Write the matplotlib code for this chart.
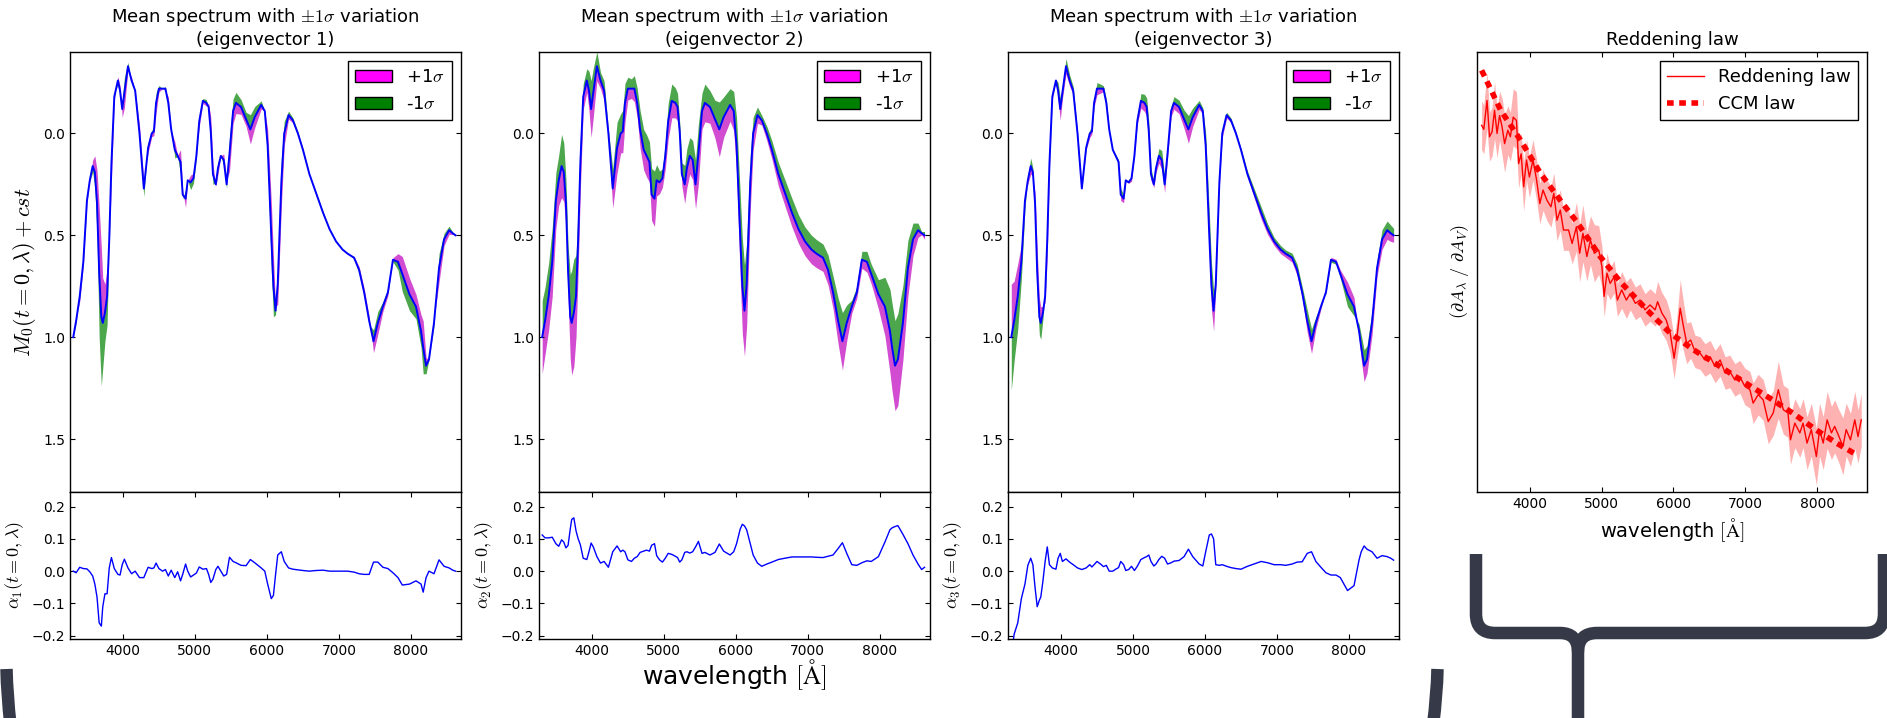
import numpy as np
import matplotlib
matplotlib.use("Agg")
import matplotlib.pyplot as plt
from matplotlib.patches import Patch, PathPatch
from matplotlib.path import Path

# ---- data ----
# common wavelength grid (Angstrom) for the mean spectrum and the alpha curves
wave = [3310, 3350, 3400, 3450, 3500, 3540, 3580, 3610, 3640, 3670,
        3700, 3720, 3750, 3780, 3810, 3840, 3880, 3930, 3960, 3990,
        4020, 4070, 4120, 4170, 4230, 4290, 4350, 4400, 4430, 4460,
        4500, 4550, 4590, 4630, 4670, 4720, 4760, 4800, 4830, 4870,
        4900, 4940, 4980, 5020, 5060, 5110, 5160, 5190, 5220, 5250,
        5290, 5320, 5360, 5400, 5440, 5480, 5530, 5570, 5640, 5710,
        5770, 5830, 5920, 5970, 6010, 6060, 6090, 6120, 6150, 6200,
        6240, 6300, 6360, 6430, 6500, 6590, 6680, 6780, 6870, 6960,
        7050, 7120, 7210, 7280, 7350, 7420, 7480, 7540, 7610, 7680,
        7750, 7820, 7880, 7980, 8070, 8140, 8170, 8210, 8250, 8320,
        8390, 8460, 8530, 8580, 8620]

# mean spectrum M0(t=0, lambda) + cst
mean_spec = [1.00, 0.92, 0.80, 0.63, 0.33, 0.23, 0.16, 0.19, 0.34, 0.68,
             0.90, 0.93, 0.88, 0.80, 0.52, 0.15, -0.18, -0.26, -0.21, -0.12,
             -0.20, -0.33, -0.26, -0.21, 0.00, 0.27, 0.07, 0.00, -0.01, -0.15,
             -0.22, -0.22, -0.22, -0.15, -0.02, 0.08, 0.11, 0.14, 0.30, 0.32,
             0.23, 0.24, 0.22, 0.11, -0.06, -0.16, -0.15, -0.13, -0.01, 0.20,
             0.25, 0.17, 0.11, 0.13, 0.25, 0.10, -0.11, -0.15, -0.13, -0.07,
             -0.02, -0.08, -0.14, -0.11, 0.06, 0.50, 0.75, 0.87, 0.74, 0.24,
             0.00, -0.09, -0.065, 0.00, 0.08, 0.20, 0.29, 0.39, 0.47, 0.53,
             0.57, 0.59, 0.61, 0.67, 0.78, 0.92, 1.02, 0.93, 0.85, 0.78,
             0.62, 0.63, 0.69, 0.79, 0.85, 0.97, 1.05, 1.14, 1.11, 0.93,
             0.66, 0.52, 0.475, 0.49, 0.50]

alpha1 = [0.000, -0.005, 0.012, 0.008, 0.007, -0.002, -0.015, -0.040, -0.080, -0.160,
          -0.170, -0.110, -0.070, -0.070, 0.010, 0.042, 0.008, -0.010, -0.012, 0.020,
          0.037, 0.010, -0.008, 0.000, -0.020, -0.020, 0.012, 0.008, 0.010, 0.025,
          0.008, 0.000, 0.005, -0.015, 0.003, -0.020, -0.002, -0.030, -0.010, 0.022,
          0.000, -0.018, -0.012, -0.006, 0.013, 0.006, 0.008, -0.010, -0.035, -0.025,
          0.005, 0.015, 0.000, -0.015, -0.010, 0.043, 0.030, 0.026, 0.018, 0.017,
          0.036, 0.026, 0.010, 0.000, -0.040, -0.085, -0.075, -0.010, 0.050, 0.060,
          0.030, 0.010, 0.006, 0.004, 0.002, 0.000, 0.002, 0.003, 0.000, 0.000,
          0.000, 0.000, -0.003, -0.008, -0.010, -0.010, 0.028, 0.028, 0.012, 0.008,
          -0.005, -0.020, -0.043, -0.040, -0.030, -0.040, -0.065, -0.020, 0.000, -0.008,
          0.035, 0.015, 0.010, 0.003, 0.000]

alpha2 = [0.112, 0.103, 0.103, 0.105, 0.085, 0.077, 0.097, 0.090, 0.072, 0.080,
          0.130, 0.160, 0.165, 0.125, 0.100, 0.082, 0.040, 0.036, 0.060, 0.087,
          0.075, 0.045, 0.025, 0.030, 0.012, 0.060, 0.078, 0.060, 0.065, 0.060,
          0.035, 0.030, 0.040, 0.045, 0.058, 0.062, 0.065, 0.062, 0.080, 0.085,
          0.048, 0.035, 0.028, 0.040, 0.055, 0.052, 0.046, 0.042, 0.028, 0.035,
          0.058, 0.060, 0.056, 0.060, 0.075, 0.092, 0.055, 0.058, 0.050, 0.058,
          0.084, 0.062, 0.050, 0.060, 0.085, 0.130, 0.145, 0.140, 0.128, 0.085,
          0.050, 0.025, 0.015, 0.022, 0.028, 0.036, 0.040, 0.044, 0.044, 0.044,
          0.044, 0.043, 0.042, 0.046, 0.050, 0.070, 0.088, 0.055, 0.020, 0.018,
          0.026, 0.032, 0.030, 0.045, 0.090, 0.128, 0.134, 0.138, 0.141, 0.114,
          0.085, 0.050, 0.022, 0.005, 0.012]

alpha3 = [-0.260, -0.195, -0.160, -0.085, -0.040, 0.018, 0.040, 0.020, -0.050, -0.110,
          -0.090, -0.080, -0.030, 0.030, 0.075, 0.020, 0.010, 0.006, 0.040, 0.055,
          0.030, 0.038, 0.028, 0.020, 0.010, 0.005, 0.010, 0.020, 0.013, 0.020,
          0.030, 0.022, 0.014, 0.018, 0.000, 0.000, 0.006, 0.011, 0.030, 0.020,
          0.002, 0.005, 0.015, 0.002, 0.015, 0.036, 0.042, 0.045, 0.050, 0.030,
          0.016, 0.022, 0.036, 0.046, 0.040, 0.022, 0.026, 0.031, 0.033, 0.045,
          0.068, 0.045, 0.022, 0.016, 0.060, 0.112, 0.115, 0.100, 0.020, 0.018,
          0.020, 0.015, 0.011, 0.008, 0.006, 0.015, 0.022, 0.030, 0.026, 0.020,
          0.020, 0.018, 0.022, 0.028, 0.029, 0.055, 0.060, 0.030, 0.012, -0.005,
          -0.012, -0.012, -0.020, -0.060, -0.045, 0.035, 0.060, 0.078, 0.068, 0.060,
          0.040, 0.048, 0.045, 0.040, 0.034]

# 1 sigma of each eigenvector coefficient
sigmas = [2.0, 1.6, 1.0]

# reddening law (arbitrary units, no y tick labels in the original)
red_wave = [3330, 3360, 3405, 3440, 3475, 3510, 3545, 3580, 3615, 3650,
            3695, 3730, 3770, 3815, 3845, 3880, 3915, 3955, 3995, 4045,
            4095, 4140, 4185, 4240, 4295, 4335, 4380, 4425, 4470, 4540,
            4590, 4650, 4695, 4740, 4795, 4845, 4900, 4960, 5005, 5035,
            5075, 5120, 5175, 5220, 5280, 5345, 5400, 5470, 5535, 5605,
            5675, 5745, 5780, 5840, 5900, 5955, 6010, 6045, 6095, 6140,
            6185, 6240, 6300, 6370, 6440, 6510, 6580, 6650, 6720, 6785,
            6855, 6925, 6995, 7065, 7110, 7180, 7250, 7320, 7390, 7460,
            7530, 7595, 7630, 7690, 7760, 7805, 7860, 7920, 7990, 8035,
            8085, 8140, 8200, 8245, 8305, 8360, 8405, 8465, 8525, 8570, 8615]

red_law = [1.430, 1.420, 1.491, 1.402, 1.414, 1.467, 1.410, 1.454, 1.426, 1.385,
           1.418, 1.402, 1.450, 1.442, 1.336, 1.360, 1.279, 1.345, 1.303, 1.345,
           1.296, 1.238, 1.271, 1.246, 1.230, 1.263, 1.197, 1.222, 1.173, 1.173,
           1.140, 1.181, 1.116, 1.165, 1.108, 1.148, 1.116, 1.124, 1.083, 1.010,
           1.067, 1.042, 1.058, 1.001, 1.026, 1.001, 1.017, 0.993, 1.001, 0.977,
           0.989, 0.977, 0.997, 0.969, 0.952, 0.920, 0.858, 0.903, 0.981, 0.936,
           0.895, 0.903, 0.875, 0.871, 0.854, 0.862, 0.838, 0.854, 0.822, 0.826,
           0.805, 0.813, 0.789, 0.781, 0.748, 0.769, 0.756, 0.703, 0.724, 0.781,
           0.732, 0.724, 0.658, 0.699, 0.675, 0.699, 0.650, 0.683, 0.617, 0.683,
           0.650, 0.707, 0.675, 0.691, 0.666, 0.642, 0.683, 0.658, 0.707, 0.666, 0.707]

red_err = [0.06, 0.06, 0.07, 0.06, 0.06, 0.07, 0.06, 0.06, 0.07, 0.07,
           0.06, 0.06, 0.07, 0.07, 0.06, 0.05, 0.06, 0.05, 0.05, 0.05,
           0.05, 0.05, 0.05, 0.05, 0.05, 0.05, 0.05, 0.05, 0.05, 0.05,
           0.05, 0.06, 0.07, 0.07, 0.06, 0.06, 0.07, 0.06, 0.05, 0.05,
           0.05, 0.04, 0.04, 0.04, 0.045, 0.045, 0.04, 0.04, 0.04, 0.04,
           0.04, 0.04, 0.05, 0.05, 0.05, 0.05, 0.05, 0.05, 0.07, 0.06,
           0.05, 0.045, 0.04, 0.04, 0.04, 0.04, 0.04, 0.04, 0.04, 0.04,
           0.04, 0.04, 0.045, 0.045, 0.05, 0.05, 0.05, 0.055, 0.055, 0.07,
           0.06, 0.06, 0.06, 0.06, 0.06, 0.06, 0.065, 0.065, 0.07, 0.065,
           0.065, 0.07, 0.065, 0.065, 0.065, 0.07, 0.065, 0.065, 0.07, 0.065, 0.065]

ccm_wave = [3330, 3595, 3870, 4150, 4425, 4655, 4980, 5260, 5630,
            5955, 6280, 6650, 6970, 7345, 7665, 7990, 8270, 8545]
ccm_law = [1.565, 1.467, 1.394, 1.312, 1.246, 1.193, 1.108, 1.046, 0.977,
           0.920, 0.879, 0.838, 0.801, 0.760, 0.723, 0.682, 0.650, 0.622]

# ---- style ----
plt.rcParams["mathtext.fontset"] = "cm"
plt.rcParams["font.family"] = "DejaVu Sans"
plt.rcParams["xtick.direction"] = "in"
plt.rcParams["ytick.direction"] = "in"
plt.rcParams["xtick.top"] = True
plt.rcParams["ytick.right"] = True
plt.rcParams["xtick.labelsize"] = 10
plt.rcParams["ytick.labelsize"] = 10
plt.rcParams["legend.fancybox"] = False
plt.rcParams["legend.edgecolor"] = "black"
plt.rcParams["legend.framealpha"] = 1
plt.rcParams["legend.fontsize"] = 13
plt.rcParams["axes.linewidth"] = 1.0

wave = np.array(wave)
mean_spec = np.array(mean_spec)
alphas = [np.array(alpha1), np.array(alpha2), np.array(alpha3)]
red_law = np.array(red_law)
red_err = np.array(red_err)

fig = plt.figure(figsize=(18.87, 7.18), dpi=100)

lefts = [0.0371, 0.2856, 0.5342]
width = 0.2072
xlim = (3265, 8695)

for i in range(3):
    ax = fig.add_axes([lefts[i], 0.3148, width, 0.6128])
    ax_low = fig.add_axes([lefts[i], 0.110, width, 0.2048])
    dev = sigmas[i] * alphas[i]

    # +1 sigma / -1 sigma bands around the mean spectrum
    ax.fill_between(wave, mean_spec, mean_spec + dev, color=(0.75, 0, 0.75), alpha=0.7, lw=0)
    ax.fill_between(wave, mean_spec, mean_spec - dev, color=(0, 0.5, 0), alpha=0.7, lw=0)
    ax.plot(wave, mean_spec, color="b", lw=1.4)
    ax.set_xlim(xlim)
    ax.set_ylim(1.76, -0.40)
    ax.set_yticks([0.0, 0.5, 1.0, 1.5])
    ax.tick_params(axis="x", bottom=False, top=False, labelbottom=False)
    ax.set_title("Mean spectrum with $\\pm1\\sigma$ variation\n(eigenvector %d)" % (i + 1),
                 fontsize=13, pad=5)
    handles = [Patch(facecolor="magenta", edgecolor="k"), Patch(facecolor="green", edgecolor="k")]
    ax.legend(handles, ["+1$\\sigma$", "-1$\\sigma$"], loc="upper right")
    if i == 0:
        ax.set_ylabel("$M_0(t=0,\\lambda)+cst$", fontsize=16)

    # eigenvector coefficient
    ax_low.plot(wave, alphas[i], color="b", lw=1)
    ax_low.set_xlim(xlim)
    ax_low.set_ylim(-0.21, 0.245)
    ax_low.set_yticks([-0.2, -0.1, 0.0, 0.1, 0.2])
    ax_low.set_xticks([4000, 5000, 6000, 7000, 8000])
    ax_low.set_ylabel("$\\alpha_%d(t=0,\\lambda)$" % (i + 1), fontsize=13)

fig.text(0.389, 0.06, "wavelength $[\\mathrm{\\AA}]$", ha="center", va="center", fontsize=18)

# reddening law panel
ax4 = fig.add_axes([0.7827, 0.3148, 0.2067, 0.6128])
ax4.fill_between(red_wave, red_law - red_err, red_law + red_err, color="r", alpha=0.3, lw=0)
ax4.plot(red_wave, red_law, color="r", lw=1, label="Reddening law")
ax4.plot(ccm_wave, ccm_law, color="r", lw=4, ls=(0, (1.2, 1.0)), label="CCM law")
ax4.set_xlim(xlim)
ax4.set_ylim(0.53, 1.61)
ax4.set_yticks([])
ax4.set_xticks([4000, 5000, 6000, 7000, 8000])
ax4.set_title("Reddening law", fontsize=13, pad=5)
ax4.set_xlabel("wavelength $[\\mathrm{\\AA}]$", fontsize=14)
ax4.set_ylabel("$(\\partial A_\\lambda\\ /\\ \\partial A_V)$", fontsize=13)
ax4.legend(loc="upper right")

# braces drawn under the panels (figure pixel coordinates)
over = fig.add_axes([0, 0, 1, 1], zorder=-1)
over.set_xlim(0, 1887)
over.set_ylim(718, 0)
over.axis("off")
brace_color = "#363948"
M, L, C = Path.MOVETO, Path.LINETO, Path.CURVE3
left_half = Path([(1476, 554), (1476, 614), (1476, 633), (1495, 633), (1560, 633),
                  (1578, 633), (1578, 652), (1578, 730)],
                 [M, L, C, C, L, C, C, L])
right_half = Path([(1578, 652), (1578, 633), (1597, 633), (1865, 633),
                   (1884, 633), (1884, 614), (1884, 554)],
                  [M, C, C, L, C, C, L])
big_left = Path([(6.5, 669), (7, 695), (10.5, 725)], [M, C, C])
big_right = Path([(1437.5, 669), (1437, 695), (1433, 725)], [M, C, C])
for p in [left_half, right_half, big_left, big_right]:
    over.add_patch(PathPatch(p, fill=False, lw=9, edgecolor=brace_color,
                             capstyle="butt", joinstyle="round"))

fig.savefig("out.png", dpi=100)
